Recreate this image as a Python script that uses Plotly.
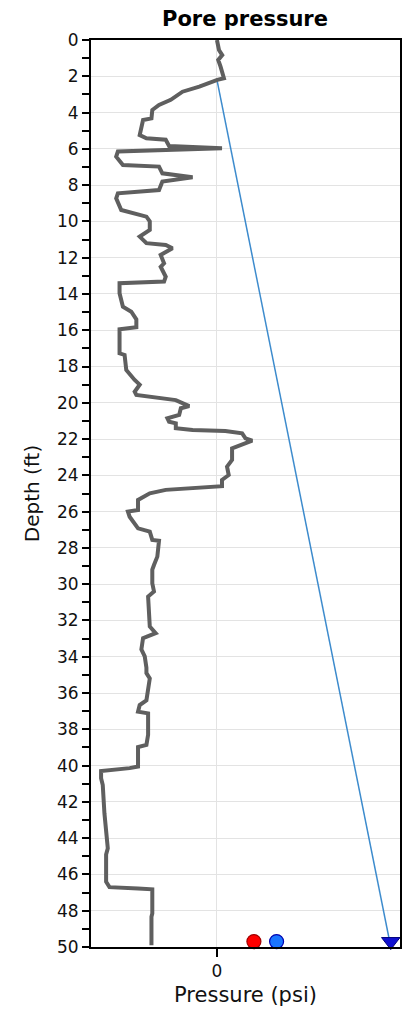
import plotly.graph_objects as go

# Measured pore-pressure log (depth in ft, pressure in psi)
depth_ft = [0.0, 0.55, 0.83, 1.1, 1.47, 1.84, 2.11, 2.2, 2.57, 2.85, 3.3, 3.58, 3.86, 4.32,
            4.41, 5.24, 5.42, 5.5, 5.84, 5.97, 6.15, 6.43, 6.89, 6.98, 7.35, 7.57, 7.8, 8.27,
            8.45, 8.73, 9.37, 9.74, 10.0, 10.47, 10.84, 11.2, 11.3, 11.48, 11.85, 12.31, 12.5,
            13.05, 13.32, 13.41, 13.96, 14.7, 14.98, 15.4, 15.84, 15.95, 17.27, 17.36, 18.19,
            18.74, 19.0, 19.39, 19.57, 19.85, 20.03, 20.18, 20.3, 20.67, 20.85, 21.04, 21.13,
            21.4, 21.5, 21.55, 21.68, 21.96, 22.09, 22.23, 22.51, 23.15, 23.52, 23.98, 24.25,
            24.6, 24.8, 24.99, 25.36, 25.91, 26.0, 26.28, 26.92, 27.1, 27.56, 27.6, 28.48,
            28.94, 29.2, 29.95, 30.4, 30.68, 32.33, 32.7, 32.97, 33.6, 33.98, 34.6, 34.9,
            35.2, 36.4, 36.66, 37.03, 37.12, 38.3, 38.86, 38.98, 40.05, 40.14, 40.3, 40.7,
            41.07, 42.63, 44.56, 44.9, 46.4, 46.7, 46.77, 46.82, 48.15, 48.33, 49.9]
pressure_psi = [0.0, 0.24, 0.63, 0.15, 0.43, 0.71, 0.83, 0.04, -2.1, -4.1, -5.5, -6.9, -7.7,
                -7.8, -8.8, -9.2, -8.4, -6.1, -5.7, 0.6, -11.8, -12.0, -11.2, -6.9, -6.5, -2.9,
                -6.5, -6.9, -11.8, -12.0, -11.4, -8.4, -8.0, -8.0, -9.2, -8.4, -6.1, -5.3,
                -6.7, -6.3, -6.7, -6.1, -6.3, -11.6, -11.6, -11.2, -10.2, -9.6, -9.6, -11.6,
                -11.6, -11.0, -10.8, -9.8, -9.2, -9.8, -9.6, -4.9, -4.1, -3.3, -4.3, -4.5,
                -5.9, -5.7, -4.9, -4.9, -2.9, 1.0, 3.0, 3.4, 4.2, 3.4, 1.8, 1.8, 1.2, 1.4,
                0.6, 0.6, -6.1, -8.0, -9.4, -9.4, -10.6, -10.4, -9.4, -8.0, -7.7, -6.9, -7.1,
                -7.5, -7.7, -7.7, -7.5, -8.2, -8.0, -7.3, -8.8, -9.0, -8.6, -8.4, -8.4, -8.0,
                -8.4, -9.2, -9.4, -8.2, -8.2, -8.4, -9.4, -9.4, -10.4, -13.8, -13.8, -13.6,
                -13.4, -13.0, -13.2, -13.2, -12.8, -9.4, -7.7, -7.7, -7.8, -7.8]

# Hydrostatic reference line
hydro_depth_ft = [2.2, 50.0]
hydro_pressure_psi = [0.0, 20.7]

# Point markers along the bottom
marker_pressure_psi = [4.4, 7.1]
marker_depth_ft = [49.7, 49.7]
marker_colors = ["#ff0000", "#1a75ff"]
marker_lines = ["#a00000", "#0000b0"]

end_pressure_psi = [20.7]
end_depth_ft = [49.7]

fig = go.Figure()

fig.add_trace(go.Scatter(
    x=hydro_pressure_psi, y=hydro_depth_ft, mode="lines",
    line=dict(color="#3d8bcd", width=1.5), showlegend=False, hoverinfo="skip"))

fig.add_trace(go.Scatter(
    x=pressure_psi, y=depth_ft, mode="lines",
    line=dict(color="#5f5f5f", width=4), showlegend=False))

fig.add_trace(go.Scatter(
    x=marker_pressure_psi, y=marker_depth_ft, mode="markers",
    marker=dict(size=14, color=marker_colors, line=dict(color=marker_lines, width=1.2)),
    showlegend=False, cliponaxis=False))

fig.add_trace(go.Scatter(
    x=end_pressure_psi, y=end_depth_ft, mode="markers",
    marker=dict(size=16, symbol="triangle-down", color="#1010d0",
                line=dict(color="#00007a", width=1)),
    showlegend=False, cliponaxis=False))

font_family = "DejaVu Sans, Verdana, sans-serif"

fig.update_layout(
    width=414, height=1023,
    margin=dict(l=91, r=12, t=40, b=76),
    paper_bgcolor="white", plot_bgcolor="white",
    font=dict(family=font_family, color="#111111", size=17),
    title=dict(text="<b>Pore pressure</b>", x=245 / 414, xanchor="center",
               y=1 - 19 / 1023, yanchor="middle",
               font=dict(size=21, family=font_family, color="#000000")),
    xaxis=dict(
        range=[-15.0, 21.8], tickvals=[0], ticktext=["0"],
        ticks="outside", ticklen=8, tickwidth=2, tickcolor="#000000",
        showgrid=True, gridcolor="#e3e3e3", gridwidth=1,
        zeroline=False, showline=True, linecolor="#000000", linewidth=2, mirror=True,
        title=dict(text="Pressure (psi)", font=dict(size=21), standoff=7),
        tickfont=dict(size=17)),
    yaxis=dict(
        range=[50, 0], dtick=2, tick0=0,
        ticks="outside", ticklen=7, tickwidth=2, tickcolor="#000000",
        minor=dict(dtick=1, ticks="outside", ticklen=7, tickwidth=2,
                   tickcolor="#000000", showgrid=False),
        showgrid=True, gridcolor="#e3e3e3", gridwidth=1,
        zeroline=False, showline=True, linecolor="#000000", linewidth=2, mirror=True,
        title=dict(text="Depth (ft)", font=dict(size=20), standoff=12),
        tickfont=dict(size=17)),
)

fig.write_html("out.html")
